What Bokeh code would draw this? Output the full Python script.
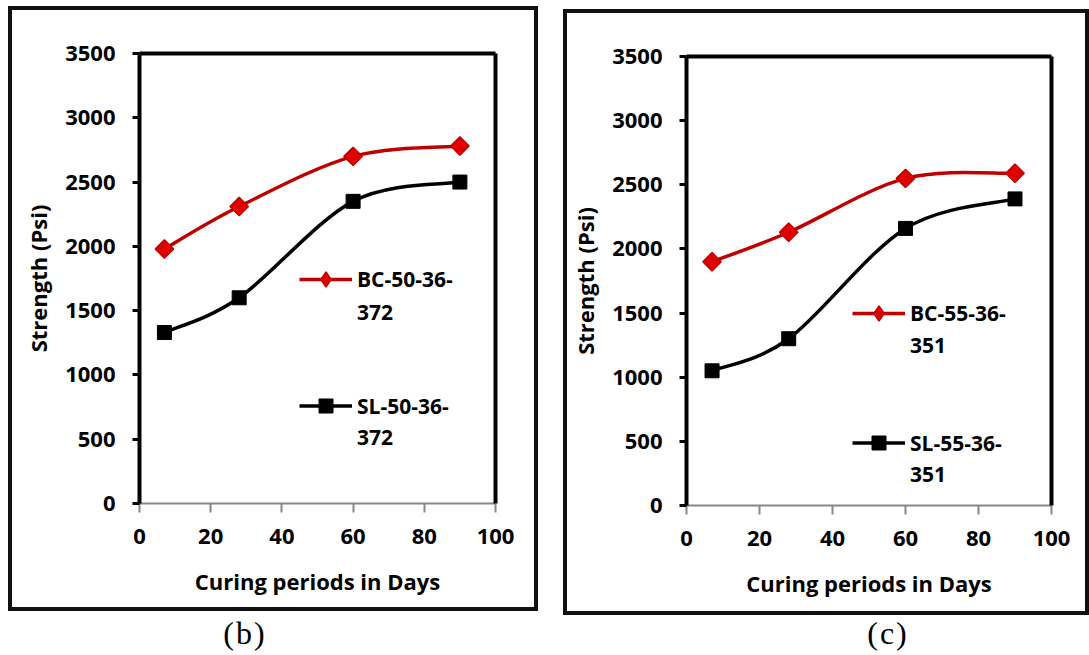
from bokeh.plotting import figure
from bokeh.models import (Range1d, FixedTicker, LinearAxis, Legend, LegendItem, Div)
from bokeh.layouts import row, column
from bokeh.embed import file_html
from bokeh.resources import INLINE
import math

# Curing periods (days) and compressive strength (psi)
days = [7, 28, 60, 90]

bc_50 = [1980, 2310, 2700, 2780]
sl_50 = [1330, 1600, 2350, 2500]

bc_55 = [1900, 2130, 2550, 2590]
sl_55 = [1050, 1300, 2160, 2390]

names_b = [("BC-50-36-", "372"), ("SL-50-36-", "372")]
names_c = [("BC-55-36-", "351"), ("SL-55-36-", "351")]

x_ticks = [0, 20, 40, 60, 80, 100]
y_ticks = [0, 500, 1000, 1500, 2000, 2500, 3000, 3500]

FONT = "Open Sans"
RED_LINE = "#c00000"
RED_FILL = "#e00000"
FRAME = {"border": "4px solid #111111", "box-sizing": "content-box"}


def smooth_segments(xs, ys):
    """Cubic Bezier pieces through the points (Catmull-Rom style smoothing)."""
    n = len(xs)
    seg = dict(x0=[], y0=[], x1=[], y1=[], cx0=[], cy0=[], cx1=[], cy1=[])
    for i in range(n - 1):
        xp, yp = (xs[i - 1], ys[i - 1]) if i > 0 else (xs[i], ys[i])
        xn, yn = (xs[i + 2], ys[i + 2]) if i + 2 < n else (xs[i + 1], ys[i + 1])
        seg["x0"].append(xs[i]); seg["y0"].append(ys[i])
        seg["x1"].append(xs[i + 1]); seg["y1"].append(ys[i + 1])
        seg["cx0"].append(xs[i] + (xs[i + 1] - xp) / 6.0)
        seg["cy0"].append(ys[i] + (ys[i + 1] - yp) / 6.0)
        seg["cx1"].append(xs[i + 1] - (xn - xs[i]) / 6.0)
        seg["cy1"].append(ys[i + 1] - (yn - ys[i]) / 6.0)
    return seg


def legend_line(p, text, renderers, loc, glyph_h):
    """One line of a wrapped legend entry; the key sits beside the first line."""
    leg = Legend(items=[LegendItem(label=text, renderers=renderers)],
                 location=loc, orientation="vertical",
                 glyph_width=53, glyph_height=glyph_h, label_height=glyph_h,
                 label_standoff=5, spacing=0, padding=0, margin=0,
                 border_line_color=None, background_fill_alpha=0,
                 label_text_font=FONT, label_text_font_style="bold",
                 label_text_font_size="21px", label_text_color="black")
    p.add_layout(leg, "center")


def panel(bc, sl, names, width, height, borders, leg_y, leg_x):
    left, right, top, bottom = borders
    p = figure(width=width, height=height, output_backend="svg", toolbar_location=None,
               x_range=Range1d(0, 100), y_range=Range1d(0, 3500),
               min_border_left=left, min_border_right=right,
               min_border_top=top, min_border_bottom=bottom,
               x_axis_label="Curing periods in Days", y_axis_label="Strength (Psi)")
    p.grid.visible = False
    p.outline_line_color = None
    p.background_fill_color = "white"
    p.border_fill_color = "white"

    xa = p.xaxis[0]
    xa.ticker = FixedTicker(ticks=x_ticks)
    xa.axis_line_color = "#878787"
    xa.axis_line_width = 2
    xa.major_tick_line_color = "#878787"
    xa.major_tick_line_width = 2
    xa.major_tick_out = 9
    xa.major_tick_in = 0
    xa.minor_tick_line_color = None
    xa.major_label_standoff = 16
    xa.axis_label_standoff = 19

    ya = p.yaxis[0]
    ya.ticker = FixedTicker(ticks=y_ticks)
    ya.axis_line_color = "black"
    ya.axis_line_width = 4
    ya.major_tick_line_color = "black"
    ya.major_tick_line_width = 3
    ya.major_tick_out = 7
    ya.major_tick_in = 0
    ya.minor_tick_line_color = None
    ya.major_label_standoff = 17
    ya.axis_label_standoff = 9

    for ax in (xa, ya):
        ax.major_label_text_font = FONT
        ax.major_label_text_font_style = "bold"
        ax.major_label_text_font_size = "22px"
        ax.major_label_text_color = "black"
        ax.axis_label_text_font = FONT
        ax.axis_label_text_font_style = "bold"
        ax.axis_label_text_font_size = "22px"
        ax.axis_label_text_color = "black"

    # top and right edges of the plotting area
    for side in ("above", "right"):
        edge = LinearAxis(ticker=FixedTicker(ticks=[]), axis_line_color="black",
                          axis_line_width=4, major_tick_line_color=None,
                          minor_tick_line_color=None)
        p.add_layout(edge, side)

    bc_curve = p.bezier(line_color=RED_LINE, line_width=3.5, **smooth_segments(days, bc))
    p.scatter(days, bc, marker="square", angle=math.pi / 4, size=13,
              fill_color=RED_FILL, line_color=RED_LINE, line_width=1.5)
    sl_curve = p.bezier(line_color="black", line_width=3.5, **smooth_segments(days, sl))
    sl_pts = p.scatter(days, sl, marker="square", size=14,
                       fill_color="black", line_color="black")

    # diamond key for the legend (legend keys are drawn unrotated)
    bc_key = p.scatter(days, bc, marker="diamond", size=16, visible=False,
                       fill_color=RED_FILL, line_color=RED_LINE, line_width=1.5)

    legend_line(p, names[0][0], [bc_curve, bc_key], (leg_x, leg_y[0]), 38)
    legend_line(p, names[0][1], [], (leg_x, leg_y[1]), 30)
    legend_line(p, names[1][0], [sl_curve, sl_pts], (leg_x, leg_y[2]), 35)
    legend_line(p, names[1][1], [], (leg_x, leg_y[3]), 30)
    return p


p_b = panel(bc_50, sl_50, names_b, 522, 597, (127, 39, 43, 104),
            [205, 176, 80, 51], 160)
p_c = panel(bc_55, sl_55, names_c, 518, 598, (119, 34, 43, 106),
            [173, 145, 45, 16], 166)

# framed boxes around each chart
box_b = column(p_b, styles=FRAME, margin=(6, 0, 0, 8))
box_c = column(p_c, styles=FRAME, margin=(9, 0, 0, 25))

cap_style = {"font-family": "'Liberation Serif', 'Times New Roman', serif",
             "font-size": "32px", "line-height": "36px", "text-align": "center",
             "letter-spacing": "2px", "color": "black"}
cap_b = Div(text="(b)", width=100, height=38, styles=cap_style, margin=(4, 0, 0, 195))
cap_c = Div(text="(c)", width=100, height=38, styles=cap_style, margin=(0, 0, 0, 300))

layout = row(column(box_b, cap_b), column(box_c, cap_c))

open("out.html", "w").write(file_html(layout, INLINE))
